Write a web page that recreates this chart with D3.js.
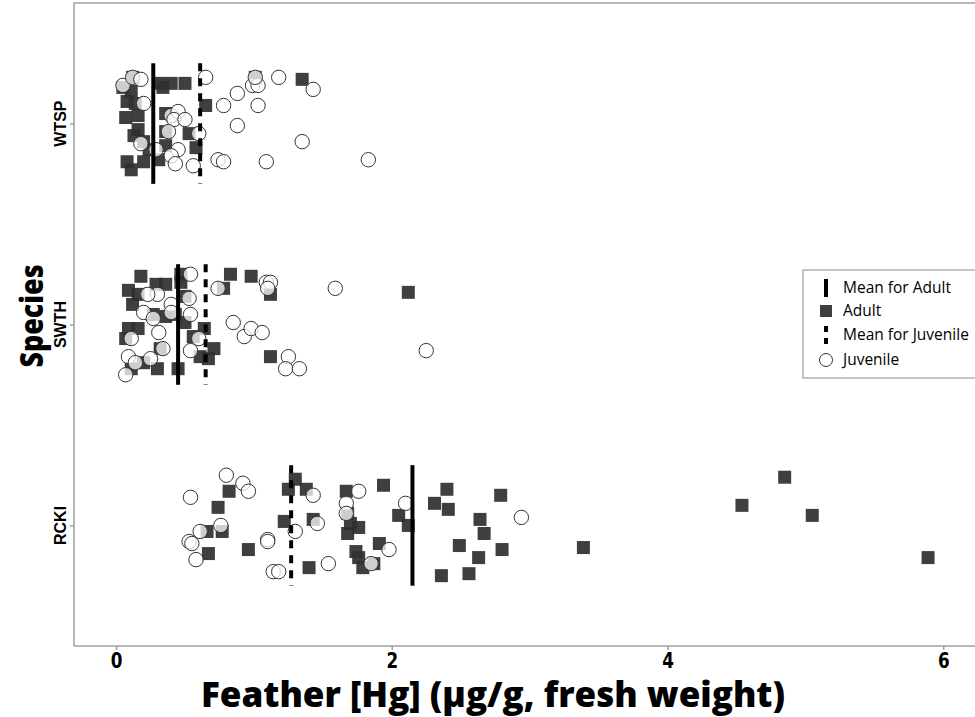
<!DOCTYPE html>
<html lang="en">
<head>
<meta charset="utf-8">
<style>
  body { margin: 0; background: white; }
  svg { background: white; display: block; }
  .frame { fill: none; stroke: #a0a0a0; stroke-width: 1.5px; }
  .tick-x { font-family: "DejaVu Sans", sans-serif; font-weight: bold; font-size: 21px; }
  .tick-y { font-family: "Liberation Sans", Arial, sans-serif; font-weight: bold; font-size: 16px; }
  .title { font-family: "Open Sans", "Noto Sans", sans-serif; font-weight: 800; }
  .legend-text { font-family: "Open Sans", "Noto Sans", sans-serif; font-size: 15.5px; }
  .adult { fill: #2f2f2f; fill-opacity: 0.92; }
  .juvenile { fill: white; fill-opacity: 0.75; stroke: #333; stroke-width: 1px; }
</style>
<script src="https://d3js.org/d3.v7.min.js"></script>
</head>
<body>
<script>
// species order, top to bottom
var species = ["WTSP", "SWTH", "RCKI"];
var xTicks = [0, 2, 4, 6];

// feather Hg (ug/g) and jitter offset (fraction of category step)
var wtspAdultHg = [0.12, 0.05, 0.11, 0.08, 0.14, 0.07, 0.16, 0.16, 0.13, 0.20, 0.24, 0.08, 0.11, 0.20, 0.31, 0.31, 0.40, 0.50, 0.34, 0.36, 0.36, 0.53, 0.58, 0.65, 0.36, 1.01, 1.35];
var wtspAdultJit = [-0.23, -0.18, -0.16, -0.11, -0.10, -0.03, -0.04, 0.03, 0.06, 0.09, 0.13, 0.19, 0.23, 0.19, 0.18, -0.20, -0.20, -0.20, -0.18, -0.05, 0.04, 0.05, 0.12, -0.09, 0.11, -0.23, -0.22];
var wtspJuvHg = [0.05, 0.12, 0.18, 0.20, 0.40, 0.45, 0.42, 0.50, 0.38, 0.60, 0.45, 0.40, 0.43, 0.56, 0.65, 0.74, 0.18, 0.29, 0.78, 1.09, 1.83, 1.35, 0.88, 0.78, 0.88, 0.99, 1.03, 1.01, 1.18, 1.03, 1.43];
var wtspJuvJit = [-0.19, -0.23, -0.22, -0.10, -0.04, -0.06, -0.02, -0.02, 0.04, 0.05, 0.13, 0.16, 0.20, 0.21, -0.23, 0.18, 0.10, 0.13, 0.19, 0.19, 0.18, 0.09, 0.01, -0.09, -0.15, -0.19, -0.19, -0.23, -0.23, -0.09, -0.17];

var swthAdultHg = [0.18, 0.09, 0.16, 0.29, 0.36, 0.47, 0.47, 0.50, 0.12, 0.27, 0.36, 0.43, 0.50, 0.09, 0.16, 0.07, 0.56, 0.64, 0.71, 0.61, 0.67, 0.45, 0.30, 0.20, 0.11, 0.32, 0.83, 0.98, 1.12, 1.12, 2.12, 0.78];
var swthAdultJit = [-0.24, -0.17, -0.15, -0.20, -0.20, -0.25, -0.21, -0.14, -0.10, -0.05, -0.04, -0.05, -0.01, 0.02, 0.02, 0.07, 0.06, 0.02, 0.12, 0.16, 0.17, 0.22, 0.22, 0.19, 0.22, 0.12, -0.25, -0.24, -0.15, 0.16, -0.16, -0.18];
var swthJuvHg = [0.54, 0.30, 0.23, 0.40, 0.20, 0.27, 0.53, 0.54, 0.40, 0.31, 0.11, 0.09, 0.14, 0.07, 0.34, 0.25, 0.54, 0.60, 0.74, 0.85, 0.93, 0.98, 1.06, 1.09, 1.12, 1.10, 1.25, 1.23, 1.33, 1.59, 2.25];
var swthJuvJit = [-0.25, -0.15, -0.15, -0.10, -0.06, -0.03, -0.13, -0.05, -0.06, 0.04, 0.07, 0.16, 0.19, 0.25, 0.12, 0.17, 0.13, 0.07, -0.18, -0.01, 0.06, 0.02, 0.04, -0.21, -0.21, -0.18, 0.16, 0.22, 0.22, -0.18, 0.13];

var rckiAdultHg = [0.82, 0.74, 0.66, 0.77, 0.67, 0.96, 1.30, 1.25, 1.38, 1.22, 1.43, 1.67, 1.94, 1.68, 1.70, 1.76, 1.68, 1.91, 1.74, 1.76, 1.87, 1.79, 1.40, 2.05, 2.12, 2.40, 2.31, 2.41, 2.64, 2.67, 2.49, 2.63, 2.79, 2.80, 2.36, 2.56, 3.39, 4.54, 4.85, 5.05, 5.89];
var rckiAdultJit = [-0.17, -0.09, 0.03, 0.03, 0.14, 0.12, -0.23, -0.18, -0.18, -0.02, -0.03, -0.17, -0.20, -0.06, -0.01, 0.01, 0.04, 0.09, 0.13, 0.16, 0.19, 0.21, 0.21, -0.05, 0.00, -0.18, -0.11, -0.08, -0.03, 0.04, 0.10, 0.16, -0.15, 0.12, 0.25, 0.24, 0.11, -0.10, -0.24, -0.05, 0.16];
var rckiJuvHg = [0.80, 0.92, 0.96, 0.54, 0.76, 0.61, 0.53, 0.58, 1.10, 1.10, 1.14, 1.18, 1.43, 1.30, 1.46, 1.67, 1.67, 1.76, 1.98, 1.85, 1.54, 2.10, 2.94, 0.55];
var rckiJuvJit = [-0.25, -0.21, -0.17, -0.14, 0.00, 0.03, 0.08, 0.17, 0.07, 0.08, 0.23, 0.23, -0.15, 0.03, -0.01, -0.11, -0.06, -0.17, 0.12, 0.19, 0.19, -0.11, -0.04, 0.09];

// group means, same order as species
var adultMeans = [0.27, 0.45, 2.15];
var juvenileMeans = [0.61, 0.65, 1.27];

var width = 975, height = 717;
var margin = {top: 3, right: -2, bottom: 71, left: 74};

var svg = d3.select("body").append("svg")
    .attr("width", width)
    .attr("height", height);

var x = d3.scaleLinear()
    .domain([-0.305, 6.245])
    .range([margin.left, width - margin.right]);

var y = d3.scalePoint()
    .domain(species)
    .range([margin.top, height - margin.bottom])
    .padding(0.6);

var step = y.step();

function toPoints(sp, hg, jit) {
    return hg.map(function(v, i) { return {sp: sp, v: v, j: jit[i]}; });
}

var adults = [].concat(
    toPoints("WTSP", wtspAdultHg, wtspAdultJit),
    toPoints("SWTH", swthAdultHg, swthAdultJit),
    toPoints("RCKI", rckiAdultHg, rckiAdultJit));
var juveniles = [].concat(
    toPoints("WTSP", wtspJuvHg, wtspJuvJit),
    toPoints("SWTH", swthJuvHg, swthJuvJit),
    toPoints("RCKI", rckiJuvHg, rckiJuvJit));

// panel frame
var panelBottom = height - margin.bottom;
svg.append("rect").attr("class", "frame")
    .attr("x", margin.left).attr("y", margin.top)
    .attr("width", width + 10 - margin.left)
    .attr("height", panelBottom - margin.top);

// x axis
var xAxis = svg.append("g").attr("transform", "translate(0," + panelBottom + ")")
    .call(d3.axisBottom(x).tickValues(xTicks).tickFormat(d3.format("d")).tickSize(4).tickPadding(3));
xAxis.attr("font-family", null).attr("font-size", null);
xAxis.select(".domain").remove();
xAxis.selectAll("line").attr("stroke", "#a0a0a0").attr("stroke-width", 1.5);
// narrow the digits like the condensed face of the original
xAxis.selectAll("text").attr("class", "tick-x").attr("fill", "black")
    .attr("transform", "scale(0.8,1)");

// y axis
var yAxis = svg.append("g").attr("transform", "translate(" + margin.left + ",0)")
    .call(d3.axisLeft(y).tickSize(4).tickFormat(""));
yAxis.select(".domain").remove();
yAxis.selectAll("line").attr("stroke", "#a0a0a0").attr("stroke-width", 1.5);

svg.selectAll(".ylab").data(species).enter().append("text")
    .attr("class", "tick-y")
    .attr("transform", function(d) { return "translate(" + (margin.left - 8) + "," + y(d) + ") rotate(-90)"; })
    .attr("text-anchor", "middle")
    .text(function(d) { return d; });

// points
var g = svg.append("g");
g.selectAll(".adult").data(adults).enter().append("rect")
    .attr("class", "adult")
    .attr("x", function(d) { return x(d.v) - 6.5; })
    .attr("y", function(d) { return y(d.sp) + d.j * step - 6.5; })
    .attr("width", 13).attr("height", 13);

g.selectAll(".juvenile").data(juveniles).enter().append("circle")
    .attr("class", "juvenile")
    .attr("cx", function(d) { return x(d.v); })
    .attr("cy", function(d) { return y(d.sp) + d.j * step; })
    .attr("r", 7.2);

// means
var half = 0.3 * step;
svg.selectAll(".mean-adult").data(adultMeans).enter().append("line")
    .attr("x1", function(d) { return x(d); }).attr("x2", function(d) { return x(d); })
    .attr("y1", function(d, i) { return y(species[i]) - half; })
    .attr("y2", function(d, i) { return y(species[i]) + half; })
    .attr("stroke", "black").attr("stroke-width", 4);

svg.selectAll(".mean-juv").data(juvenileMeans).enter().append("line")
    .attr("x1", function(d) { return x(d); }).attr("x2", function(d) { return x(d); })
    .attr("y1", function(d, i) { return y(species[i]) - half; })
    .attr("y2", function(d, i) { return y(species[i]) + half; })
    .attr("stroke", "black").attr("stroke-width", 4)
    .attr("stroke-dasharray", "8,7");

// axis titles
svg.append("text").attr("class", "title")
    .attr("x", 493).attr("y", 707)
    .attr("text-anchor", "middle").attr("font-size", 35)
    .text("Feather [Hg] (µg/g, fresh weight)");

svg.append("text").attr("class", "title")
    .attr("transform", "translate(43," + 316 + ") rotate(-90) scale(0.84,1)")
    .attr("text-anchor", "middle").attr("font-size", 32)
    .text("Species");

// legend
var lg = svg.append("g").attr("transform", "translate(803,270)");
lg.append("rect").attr("width", 185).attr("height", 108)
    .attr("fill", "white").attr("stroke", "#a0a0a0").attr("stroke-width", 1.2);

var items = ["Mean for Adult", "Adult", "Mean for Juvenile", "Juvenile"];
var rowY = [18, 41, 65, 90];
lg.selectAll(".legend-text").data(items).enter().append("text")
    .attr("class", "legend-text")
    .attr("x", 40).attr("y", function(d, i) { return rowY[i] + 5; })
    .text(function(d) { return d; });

lg.append("line").attr("x1", 23).attr("x2", 23).attr("y1", rowY[0] - 9).attr("y2", rowY[0] + 9)
    .attr("stroke", "black").attr("stroke-width", 4);
lg.append("rect").attr("class", "adult").attr("x", 17).attr("y", rowY[1] - 6).attr("width", 12).attr("height", 12);
lg.append("line").attr("x1", 23).attr("x2", 23).attr("y1", rowY[2] - 9).attr("y2", rowY[2] + 9)
    .attr("stroke", "black").attr("stroke-width", 4).attr("stroke-dasharray", "6,6");
lg.append("circle").attr("class", "juvenile").attr("cx", 23).attr("cy", rowY[3]).attr("r", 6.5);
</script>
</body>
</html>
